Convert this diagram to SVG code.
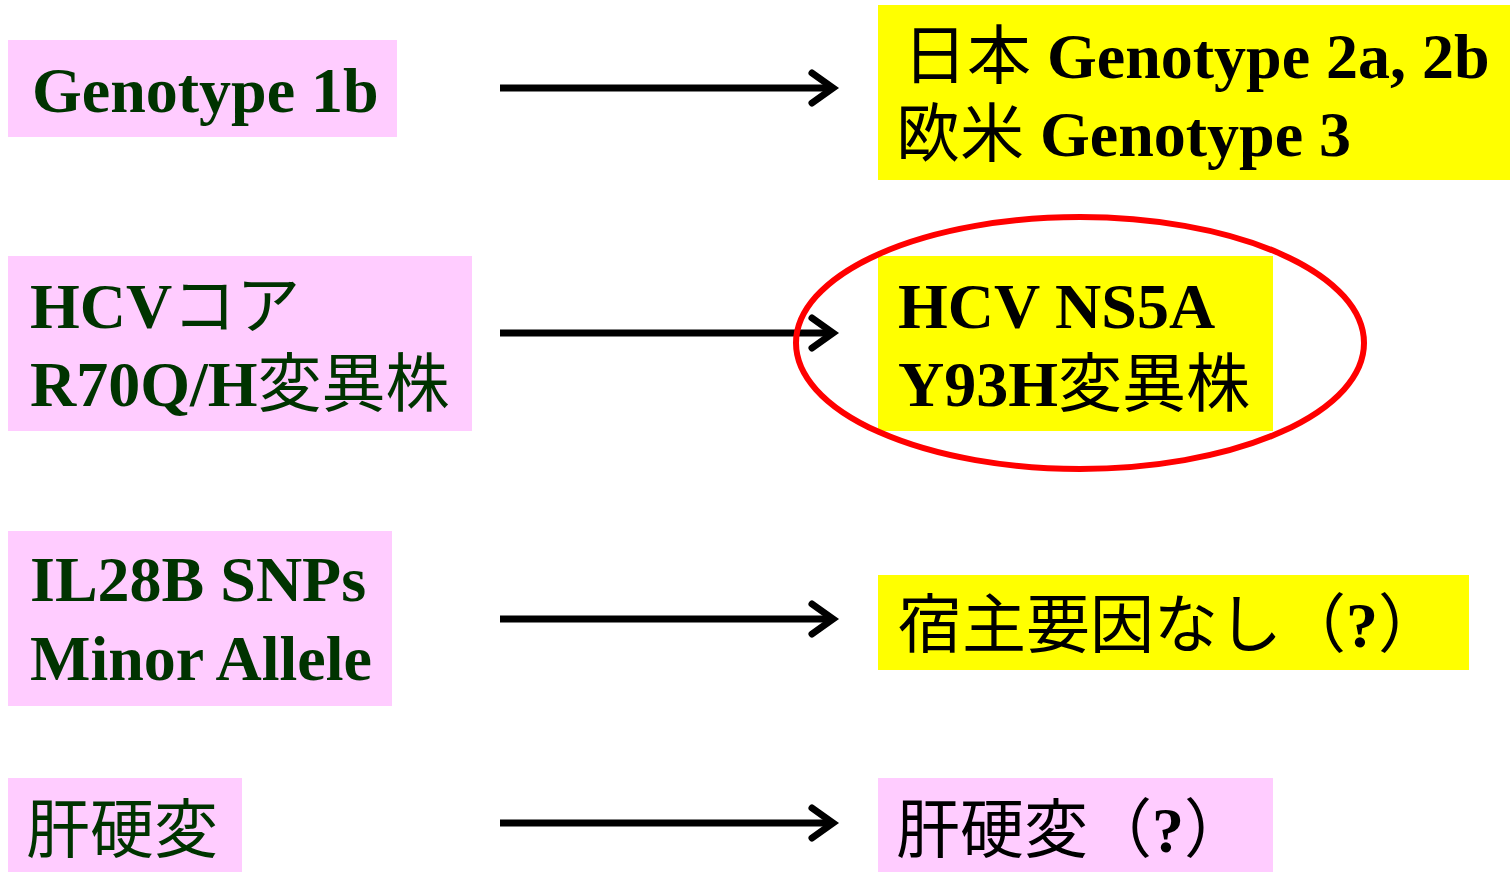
<svg xmlns="http://www.w3.org/2000/svg" width="1510" height="872" viewBox="0 0 1510 872">
<defs>
<style>
.pink{fill:#FFCCFF}
.yel{fill:#FFFF00}
.t{font-family:"Liberation Serif","Noto Sans CJK JP",serif;font-weight:bold;font-size:64px}
.g{fill:#003300}
.k{fill:#000000}
.cj{font-family:"Noto Sans CJK JP","Liberation Serif",sans-serif;font-weight:normal;font-size:64px}
.conn{stroke:#000;stroke-width:7;fill:none}
</style>
<marker id="ah" viewBox="-30 -20 40 40" markerWidth="40" markerHeight="40" refX="0" refY="0" orient="auto" markerUnits="userSpaceOnUse">
<path d="M-20,-15 L1,0 L-20,15" fill="none" stroke="#000" stroke-width="7" stroke-linecap="round" stroke-linejoin="miter"/>
</marker>
</defs>
<rect width="1510" height="872" fill="#fff"/>
<g id="connectors">
<line class="conn" x1="500" y1="88" x2="832" y2="88" marker-end="url(#ah)"/>
<line class="conn" x1="500" y1="333" x2="832" y2="333" marker-end="url(#ah)"/>
<line class="conn" x1="500" y1="619" x2="832" y2="619" marker-end="url(#ah)"/>
<line class="conn" x1="500" y1="823" x2="832" y2="823" marker-end="url(#ah)"/>
</g>
<g id="n-genotype1b">
<rect class="pink" x="8" y="40" width="389" height="97"/>
<text class="t g" x="32" y="112">Genotype 1b</text>
</g>
<g id="n-core">
<rect class="pink" x="8" y="256" width="464" height="175"/>
<text class="t g" x="30" y="328">HCV<tspan class="cj">コア</tspan></text>
<text class="t g" x="30" y="406">R70Q/H<tspan class="cj">変異株</tspan></text>
</g>
<g id="n-il28b">
<rect class="pink" x="8" y="531" width="384" height="175"/>
<text class="t g" x="30" y="601">IL28B SNPs</text>
<text class="t g" x="30" y="680">Minor Allele</text>
</g>
<g id="n-cirrhosis">
<rect class="pink" x="8" y="778" width="234" height="94"/>
<text class="cj g" x="26" y="852">肝硬変</text>
</g>
<g id="n-genotype2">
<rect class="yel" x="878" y="5" width="632" height="175"/>
<text class="t k" x="903" y="78"><tspan class="cj">日本</tspan> Genotype 2a, 2b</text>
<text class="t k" x="896" y="156"><tspan class="cj">欧米</tspan> Genotype 3</text>
</g>
<g id="n-ns5a">
<rect class="yel" x="878" y="256" width="395" height="175"/>
<text class="t k" x="898" y="328">HCV NS5A</text>
<text class="t k" x="898" y="406">Y93H<tspan class="cj">変異株</tspan></text>
<ellipse cx="1080" cy="343" rx="284" ry="126" fill="none" stroke="#FF0000" stroke-width="6"/>
</g>
<g id="n-host">
<rect class="yel" x="878" y="575" width="591" height="95"/>
<text class="cj k" x="898" y="647">宿主要因なし（<tspan class="t">?</tspan>）</text>
</g>
<g id="n-cirrhosis2">
<rect class="pink" x="878" y="778" width="395" height="94"/>
<text class="cj k" x="896" y="852">肝硬変（<tspan class="t">?</tspan>）</text>
</g>
</svg>
